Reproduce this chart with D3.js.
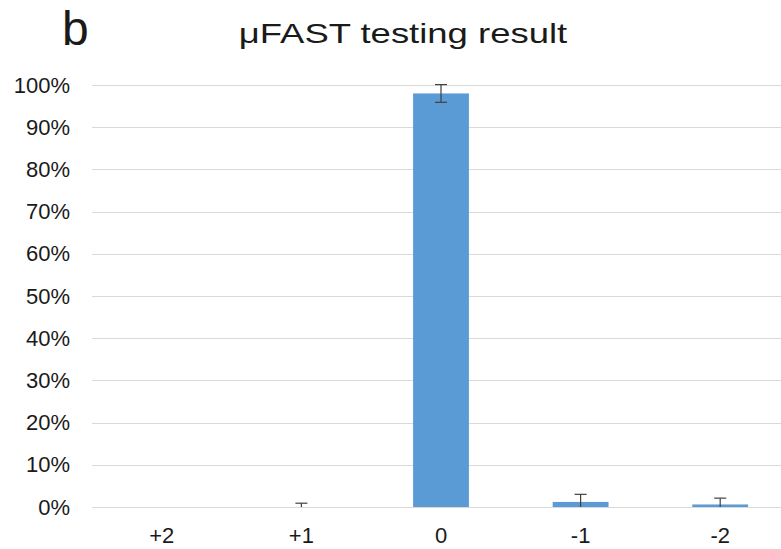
<!DOCTYPE html>
<html>
<head>
<meta charset="utf-8">
<script src="https://cdn.jsdelivr.net/npm/d3@7"></script>
<style>
  body { margin: 0; background: #fff; }
  text { font-family: "Liberation Sans", Arial, sans-serif; fill: #1a1a1a; }
</style>
</head>
<body>
<svg id="chart"></svg>
<script>
// chart data
const categories = ["+2", "+1", "0", "-1", "-2"];
const values = [0, 0, 98.0, 1.2, 0.6];
const errors = [0, 0.9, 2.1, 1.8, 1.5];
const yTicks = [0, 10, 20, 30, 40, 50, 60, 70, 80, 90, 100];

const width = 781, height = 549;
const margin = { top: 85, right: -9, bottom: 42, left: 92 };

const svg = d3.select("#chart")
  .attr("width", width)
  .attr("height", height);

const x = d3.scaleBand()
  .domain(categories)
  .range([margin.left, width - margin.right])
  .paddingInner(0.6)
  .paddingOuter(0.3);

const y = d3.scaleLinear()
  .domain([0, 100])
  .range([height - margin.bottom, margin.top]);

// gridlines
svg.append("g")
  .selectAll("line")
  .data(yTicks)
  .join("line")
  .attr("x1", margin.left)
  .attr("x2", width)
  .attr("y1", d => Math.round(y(d)) + 0.5)
  .attr("y2", d => Math.round(y(d)) + 0.5)
  .attr("stroke", "#d9d9d9")
  .attr("stroke-width", 1);

// y axis labels
const yAxis = svg.append("g")
  .attr("transform", `translate(${margin.left},0)`)
  .call(d3.axisLeft(y).tickValues(yTicks).tickFormat(d => d + "%").tickSize(0).tickPadding(22));
yAxis.select(".domain").remove();
yAxis.selectAll("text")
  .style("font-size", "22px")
  .style("font-family", "Liberation Sans, Arial, sans-serif")
  .attr("fill", "#1a1a1a");

// x axis labels
const xAxis = svg.append("g")
  .attr("transform", `translate(0,${height - margin.bottom})`)
  .call(d3.axisBottom(x).tickSize(0).tickPadding(20));
xAxis.select(".domain").remove();
xAxis.selectAll("text")
  .style("font-size", "22px")
  .style("font-family", "Liberation Sans, Arial, sans-serif")
  .attr("fill", "#1a1a1a");

// bars
svg.append("g")
  .selectAll("rect")
  .data(values)
  .join("rect")
  .attr("x", (d, i) => x(categories[i]))
  .attr("y", d => y(d))
  .attr("width", x.bandwidth())
  .attr("height", d => y(0) - y(d))
  .attr("fill", "#5b9bd5");

// error bars
const eb = svg.append("g")
  .attr("stroke", "#404040")
  .attr("stroke-width", 1.2);
values.forEach((v, i) => {
  if (errors[i] <= 0) return;
  const cx = x(categories[i]) + x.bandwidth() / 2;
  const lo = Math.max(0, v - errors[i]);
  const hi = v + errors[i];
  eb.append("line").attr("x1", cx).attr("x2", cx).attr("y1", y(lo)).attr("y2", y(hi));
  eb.append("line").attr("x1", cx - 6).attr("x2", cx + 6).attr("y1", y(hi)).attr("y2", y(hi));
  if (v - errors[i] > 0) {
    eb.append("line").attr("x1", cx - 6).attr("x2", cx + 6).attr("y1", y(lo)).attr("y2", y(lo));
  }
});

// title (slightly wide lettering in the original)
svg.append("text")
  .attr("transform", "translate(403,43) scale(1.28,1)")
  .attr("text-anchor", "middle")
  .style("font-size", "28.5px")
  .text("μFAST testing result");

svg.append("text")
  .attr("x", 62)
  .attr("y", 45)
  .style("font-size", "48px")
  .text("b");
</script>
</body>
</html>
